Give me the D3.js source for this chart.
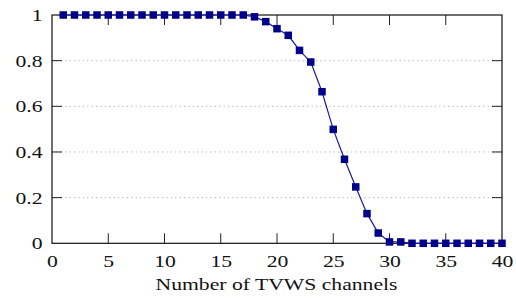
<!DOCTYPE html>
<html><head><meta charset="utf-8">
<script src="https://cdn.jsdelivr.net/npm/d3@7"></script>
<style>body{margin:0;background:#fff}svg{display:block}</style>
</head><body>
<svg id="c" width="516" height="298"></svg>
<script>
const channels = d3.range(1, 41);
const probability = [1,1,1,1,1,1,1,1,1,1,1,1,1,1,1,1,1,
  0.992,0.971,0.940,0.911,0.845,0.794,0.664,0.499,0.368,0.247,0.130,0.045,0.006,0.006,
  0,0,0,0,0,0,0,0,0];
const xTicks = [0,5,10,15,20,25,30,35,40];
const yTicks = [0,0.2,0.4,0.6,0.8,1];
const xLabel = "Number of TVWS channels";

const svg = d3.select("#c");
const L = 52, R = 502, T = 15, B = 243.3;
const x = d3.scaleLinear().domain([0,40]).range([L,R]);
const y = d3.scaleLinear().domain([0,1]).range([B,T]);
const font = "Liberation Serif";
const fs = 17.2;
const stretch = 1.26;
function widen(sel){
  sel.each(function(){
    const w = this.getComputedTextLength();
    d3.select(this).attr("textLength", w*stretch).attr("lengthAdjust","spacingAndGlyphs");
  });
}

// grid
svg.append("g").selectAll("line").data(yTicks.filter(v=>v>0&&v<1)).join("line")
  .attr("x1",L).attr("x2",R).attr("y1",d=>y(d)).attr("y2",d=>y(d))
  .attr("stroke","#b0b0b0").attr("stroke-width",1).attr("stroke-dasharray","1.2,3.2");

// axes
const tl = 10;
const xb = svg.append("g").attr("transform",`translate(0,${B})`)
  .call(d3.axisBottom(x).tickValues(xTicks).tickSize(0).tickPadding(11).tickFormat(d3.format("d")));
const yl = svg.append("g").attr("transform",`translate(${L},0)`)
  .call(d3.axisLeft(y).tickValues(yTicks).tickSize(0).tickPadding(9.5).tickFormat(d=>d===0||d===1?d3.format("d")(d):d3.format(".1f")(d)));
[xb,yl].forEach(g=>{
  g.select(".domain").remove();
  g.selectAll("text").attr("font-family",font).attr("font-size",fs).attr("fill","#111");
  widen(g.selectAll("text"));
});
xb.selectAll("text").attr("dy","0.71em");
// inward ticks
const xin = xTicks.filter(v=>v>0&&v<40), yin = yTicks.filter(v=>v>0&&v<1);
svg.append("g").selectAll("line").data(xin).join("line")
  .attr("x1",d=>x(d)).attr("x2",d=>x(d)).attr("y1",B).attr("y2",B-tl)
  .attr("stroke","#222").attr("stroke-width",1);
svg.append("g").selectAll("line").data(xin).join("line")
  .attr("x1",d=>x(d)).attr("x2",d=>x(d)).attr("y1",T).attr("y2",T+tl)
  .attr("stroke","#222").attr("stroke-width",1);
svg.append("g").selectAll("line").data(yin).join("line")
  .attr("x1",L).attr("x2",L+tl).attr("y1",d=>y(d)).attr("y2",d=>y(d))
  .attr("stroke","#222").attr("stroke-width",1);
svg.append("g").selectAll("line").data(yin).join("line")
  .attr("x1",R).attr("x2",R-tl).attr("y1",d=>y(d)).attr("y2",d=>y(d))
  .attr("stroke","#222").attr("stroke-width",1);
svg.append("rect").attr("x",L).attr("y",T).attr("width",R-L).attr("height",B-T)
  .attr("fill","none").attr("stroke","#111").attr("stroke-width",1.2);

// line
const data = channels.map((c,i)=>({c, p: probability[i]}));
svg.append("path").datum(data)
  .attr("d", d3.line().x(d=>x(d.c)).y(d=>y(d.p)))
  .attr("fill","none").attr("stroke","#1a1aa6").attr("stroke-width",1.2);
const ms = 7.5;
svg.append("g").selectAll("rect").data(data).join("rect")
  .attr("x",d=>x(d.c)-ms/2).attr("y",d=>y(d.p)-ms/2).attr("width",ms).attr("height",ms)
  .attr("fill","#000088");

const lab = svg.append("text").attr("y",290).attr("text-anchor","start")
  .attr("font-family",font).attr("font-size",fs).attr("fill","#111").text(xLabel);
const lw = lab.node().getComputedTextLength()*stretch;
lab.attr("x", (L+R)/2 - 0.5 - lw/2).attr("textLength", lw).attr("lengthAdjust","spacingAndGlyphs");
</script>
</body></html>
